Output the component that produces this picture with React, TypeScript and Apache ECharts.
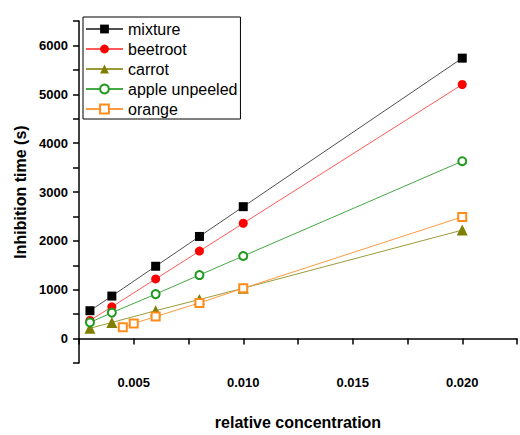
import React, { useEffect, useRef } from "react";
import * as echarts from "echarts";

const seriesNames = ["mixture", "beetroot", "carrot", "apple unpeeled", "orange"];

const concMain = [0.003, 0.004, 0.006, 0.008, 0.01, 0.02];
const concOrange = [0.0045, 0.005, 0.006, 0.008, 0.01, 0.02];

const mixture = [570, 870, 1480, 2090, 2700, 5740];
const beetroot = [370, 650, 1220, 1790, 2360, 5200];
const carrot = [210, 330, 570, 800, 1030, 2220];
const apple = [330, 530, 910, 1300, 1690, 3630];
const orange = [230, 310, 450, 730, 1030, 2490];

const xTicks = { min: 0.0025, max: 0.0225, step: 0.0025 };
const yTicks = { min: -500, max: 6500, step: 500 };

const FONT = "Arial, 'Liberation Sans', sans-serif";

function pairs(xs: number[], ys: number[]) {
  return xs.map((x, i) => [x, ys[i]]);
}

export default function App() {
  const ref = useRef<HTMLDivElement>(null);
  useEffect(() => {
    document.body.style.margin = "0";
    document.body.style.overflow = "hidden";
    const chart = echarts.init(ref.current!, undefined, { renderer: "svg" });
    const mk = (
      name: string,
      data: number[][],
      symbol: string,
      size: number,
      markColor: string,
      lineColor: string
    ) => ({
      name,
      type: "line",
      data,
      symbol,
      symbolSize: size,
      showAllSymbol: true,
      itemStyle: { color: markColor, borderWidth: symbol.startsWith("empty") ? 1.2 : 0 },
      lineStyle: { color: lineColor, width: 1 },
      z: 2,
    });
    chart.setOption({
      animation: false,
      backgroundColor: "#fff",
      textStyle: { fontFamily: FONT },
      grid: { left: 79, top: 21, height: 350, width: 447 },
      legend: {
        data: seriesNames,
        orient: "vertical",
        left: 83,
        top: 17,
        backgroundColor: "#fff",
        borderColor: "#000",
        borderWidth: 1,
        padding: [4, 3, 2, 2],
        itemWidth: 37,
        itemHeight: 11,
        itemGap: 4,
        textStyle: { fontFamily: FONT, fontSize: 16, color: "#000", lineHeight: 16 },
      },
      xAxis: {
        type: "value",
        min: xTicks.min,
        max: xTicks.max,
        interval: xTicks.step,
        name: "relative concentration",
        nameLocation: "middle",
        nameGap: 51,
        nameTextStyle: { fontFamily: FONT, fontSize: 16, fontWeight: "bold", color: "#000" },
        splitLine: { show: false },
        axisLine: { lineStyle: { color: "#000", width: 1.5 } },
        axisTick: { length: 6, lineStyle: { color: "#000", width: 1.5 } },
        axisLabel: {
          margin: 13,
          fontFamily: FONT,
          fontSize: 13,
          fontWeight: "bold",
          color: "#000",
          showMinLabel: true,
          showMaxLabel: true,
          formatter: (v: number) =>
            Math.abs(v * 200 - Math.round(v * 200)) < 1e-6 ? v.toFixed(3) : "",
        },
      },
      yAxis: {
        type: "value",
        min: yTicks.min,
        max: yTicks.max,
        interval: yTicks.step,
        name: "Inhibition time (s)",
        nameLocation: "middle",
        nameGap: 50,
        nameTextStyle: { fontFamily: FONT, fontSize: 16, fontWeight: "bold", color: "#000" },
        splitLine: { show: false },
        axisLine: { show: true, lineStyle: { color: "#000", width: 1.5 } },
        axisTick: { show: true, length: 6, lineStyle: { color: "#000", width: 1.5 } },
        axisLabel: {
          margin: 11,
          fontFamily: FONT,
          fontSize: 13,
          fontWeight: "bold",
          color: "#000",
          formatter: (v: number) => (v % 1000 === 0 ? String(v) : ""),
        },
      },
      series: [
        mk(seriesNames[0], pairs(concMain, mixture), "rect", 9, "#000000", "#505050"),
        mk(seriesNames[1], pairs(concMain, beetroot), "circle", 9, "#ff0000", "#ff5a5a"),
        mk(seriesNames[2], pairs(concMain, carrot), "triangle", 11, "#808000", "#9a9a3a"),
        mk(seriesNames[3], pairs(concMain, apple), "emptyCircle", 8, "#1e9a1e", "#44a844"),
        mk(seriesNames[4], pairs(concOrange, orange), "emptyRect", 8, "#ff8c1a", "#ff9a40"),
      ],
    });
    return () => chart.dispose();
  }, []);
  return <div ref={ref} style={{ width: 520, height: 435 }} />;
}
